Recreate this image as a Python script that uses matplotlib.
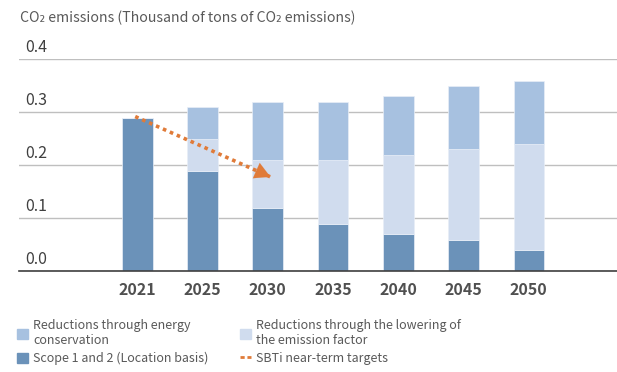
import matplotlib.pyplot as plt
from matplotlib.patches import Patch
from matplotlib.lines import Line2D

plt.rcParams['font.family'] = ['Noto Sans CJK JP', 'DejaVu Sans']

years = ['2021', '2025', '2030', '2035', '2040', '2045', '2050']
scope = [0.29, 0.19, 0.12, 0.09, 0.07, 0.06, 0.04]
factor = [0.0, 0.06, 0.09, 0.12, 0.15, 0.17, 0.20]
energy = [0.0, 0.06, 0.11, 0.11, 0.11, 0.12, 0.12]
target_x = [-0.03, 2.08]
target_y = [0.292, 0.176]
yticks = [0.0, 0.1, 0.2, 0.3, 0.4]

c_scope = '#6b92b9'
c_factor = '#d0dcee'
c_energy = '#a7c1e0'
c_orange = '#e07b39'
grey = '#595959'

fig = plt.figure(figsize=(6.17, 3.72), dpi=100)
ax = fig.add_axes([19 / 617, 1 - 271.3 / 372, 1 - 19 / 617, (271.3 - 59.3) / 372])

x = list(range(len(years)))
bottom2 = [a + b for a, b in zip(scope, factor)]
ax.bar(x, scope, width=0.47, color=c_scope, edgecolor='#e8eef7', linewidth=0.5, zorder=2)
ax.bar(x, factor, width=0.47, bottom=scope, color=c_factor, edgecolor='#e8eef7', linewidth=0.5, zorder=2)
ax.bar(x, energy, width=0.47, bottom=bottom2, color=c_energy, edgecolor='#e8eef7', linewidth=0.5, zorder=2)

# SBTi target arrow
ax.plot(target_x, target_y, color=c_orange, lw=2.6, linestyle=(0, (1, 1.1)), zorder=3)
ax.annotate('', xy=(target_x[1], target_y[1]),
            xytext=(target_x[1] - 0.1, target_y[1] + 0.0055),
            arrowprops=dict(arrowstyle='-|>,head_length=1.1,head_width=0.6', color=c_orange, lw=0.1),
            zorder=4)

ax.set_xlim(-1.81, 7.35)
ax.set_ylim(0, 0.4)
ax.set_yticks(yticks)
ax.yaxis.grid(True, color='#bfbfbf', lw=1.0, zorder=0)
ax.set_axisbelow(True)
ax.tick_params(axis='y', left=False, labelleft=False)
for v in yticks:
    ax.annotate(f'{v:.1f}', xy=(0, v), xycoords=('axes fraction', 'data'),
                xytext=(4.5, 8.6), textcoords='offset points',
                ha='left', va='center', fontsize=11.5, color='#404040')

ax.set_xticks(x)
ax.set_xticklabels(years, fontsize=11.5, color='#505050', fontweight='bold')
ax.tick_params(axis='x', bottom=False, pad=4)
for s in ['top', 'right', 'left']:
    ax.spines[s].set_visible(False)
ax.spines['bottom'].set_color('#404040')
ax.spines['bottom'].set_linewidth(1.2)

fig.text(20 / 617, 1 - 18 / 372, 'CO₂ emissions (Thousand of tons of CO₂ emissions)',
         fontsize=10.2, color=grey, va='center', ha='left')

handles = [
    Patch(color=c_energy),
    Patch(color=c_scope),
    Patch(color=c_factor),
    Line2D([], [], color=c_orange, lw=2, linestyle=(0, (1.5, 1))),
]
labels = [
    'Reductions through energy\nconservation',
    'Scope 1 and 2 (Location basis)',
    'Reductions through the lowering of\nthe emission factor',
    'SBTi near-term targets',
]
fig.legend(handles, labels, ncol=2, loc='upper left', bbox_to_anchor=(11 / 617, 1 - 313 / 372),
           frameon=False, handlelength=0.85, handleheight=0.85, handletextpad=0.4,
           labelspacing=0.35, columnspacing=2.55, borderpad=0, labelcolor=grey,
           fontsize=9)

fig.savefig('out.png', dpi=100)
